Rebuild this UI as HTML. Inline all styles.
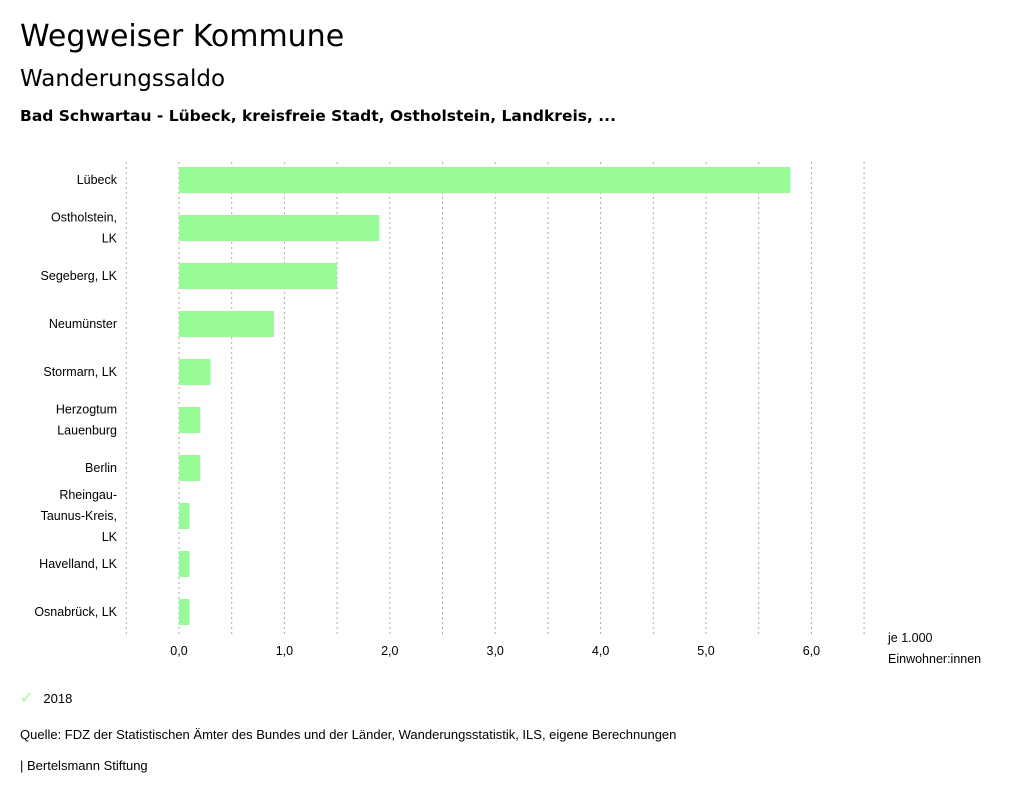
<!DOCTYPE html>
<html><head><meta charset="utf-8"><style>
body{margin:0;background:#fff;font-family:"Liberation Sans","DejaVu Sans",sans-serif;color:#000}
#wrap{position:relative;width:1024px;height:799px;overflow:hidden}
.t{position:absolute;white-space:nowrap}
.d{font-family:"DejaVu Sans",sans-serif}
</style></head><body><div id="wrap">
<div class="t d" style="left:20px;top:19px;font-size:30px">Wegweiser Kommune</div>
<div class="t d" style="left:20px;top:66px;font-size:23px">Wanderungssaldo</div>
<div class="t d" style="left:20px;top:107px;font-size:15.5px;font-weight:bold">Bad Schwartau - Lübeck, kreisfreie Stadt, Ostholstein, Landkreis, ...</div>
<svg id="chart" width="1024" height="799" style="position:absolute;left:0;top:0"></svg>
<div class="t" style="left:20px;top:688px;font-size:13px"><span style="color:#98fb98;margin-right:10px;font-size:16px;font-family:'DejaVu Sans',sans-serif">✓</span>2018</div>
<div class="t" style="left:20px;top:727px;font-size:13px">Quelle: FDZ der Statistischen Ämter des Bundes und der Länder, Wanderungsstatistik, ILS, eigene Berechnungen</div>
<div class="t" style="left:20px;top:758px;font-size:13px">| Bertelsmann Stiftung</div>
</div>
<script>
const categories=[["Lübeck"],["Ostholstein,","LK"],["Segeberg, LK"],["Neumünster"],["Stormarn, LK"],["Herzogtum","Lauenburg"],["Berlin"],["Rheingau-","Taunus-Kreis,","LK"],["Havelland, LK"],["Osnabrück, LK"]];
const values=[5.8,1.9,1.5,0.9,0.3,0.2,0.2,0.1,0.1,0.1];
const ticks=[0,1,2,3,4,5,6];
const gridVals=[-0.5,0,0.5,1,1.5,2,2.5,3,3.5,4,4.5,5,5.5,6,6.5];
const svg=document.getElementById('chart');const NS='http://www.w3.org/2000/svg';
const x=v=>179+v*105.4;
const yC=i=>180+i*48;
function mk(tag,attrs){const e=document.createElementNS(NS,tag);for(const k in attrs)e.setAttribute(k,attrs[k]);svg.appendChild(e);return e;}
gridVals.forEach(g=>{const l=mk('line',{x1:x(g),x2:x(g),y1:162,y2:634,stroke:'#aaa','stroke-dasharray':'2,3','stroke-width':1});

});
ticks.forEach(t=>{const e=mk('text',{x:x(t),y:655,'text-anchor':'middle','font-size':12.5,'font-family':'Liberation Sans, sans-serif'});e.textContent=t.toFixed(1).replace('.',',');

});
values.forEach((v,i)=>{const r=mk('rect',{x:x(0),y:yC(i)-13,width:x(v)-x(0),height:26,fill:'#98fb98'});


const lines=categories[i];const n=lines.length;
lines.forEach((s,j)=>{const e=mk('text',{x:117,y:yC(i)+4+(j-(n-1)/2)*21,'text-anchor':'end','font-size':12.5,'font-family':'Liberation Sans, sans-serif'});e.textContent=s;

});});
[["je 1.000",642],["Einwohner:innen",663]].forEach(([s,yy])=>{const e=mk('text',{x:888,y:yy,'font-size':12.5,'font-family':'Liberation Sans, sans-serif'});e.textContent=s;

});
</script></body></html>
